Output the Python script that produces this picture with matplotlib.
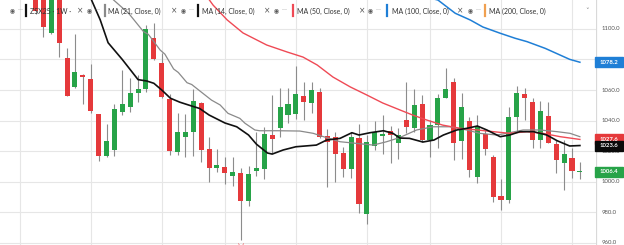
import matplotlib
matplotlib.use("Agg")
import matplotlib.pyplot as plt
from matplotlib.patches import Rectangle
from matplotlib.lines import Line2D
import numpy as np

# ! <--- candle data (weekly bars, left to right) --->
opens = [1125, 1121, 1097.2, 1121, 1080.8, 1062.2, 1069.8, 1067.2, 1044.1, 1016.9,
         1020.7, 1045.4, 1049, 1057.8, 1060.5, 1093.9, 1077.5, 1053.9, 1019.1, 1029,
         1032.3, 1051.3, 1021.1, 1009, 1009.7, 1003.8, 1005.4, 987.4, 1007.1, 1008,
         1030.3, 1035.3, 1043.6, 1044, 1056.3, 1051.3, 1058.9, 1030, 1029.4, 1018.5,
         1008.2, 1028.3, 978.7, 1023.5, 1030, 1033.4, 1025.4, 1040.3, 1034.9, 1050.8,
         1027.2, 1037, 1055, 1065.4, 1026.8, 1039.7, 1003.1, 1031, 1015.9, 990.7,
         987.9, 1042.1, 1057.4, 1052.3, 1027.2, 1043, 1024.6, 1011.9, 1015.2, 1006.0]
closes = [1112, 1101.5, 1121, 1090.6, 1056.3, 1071.8, 1068.3, 1046.4, 1016.9, 1026.6,
          1047.3, 1050.6, 1057.8, 1060.4, 1099.8, 1080.3, 1055.6, 1020, 1032.7, 1032.3,
          1052.8, 1020.7, 1009, 1011, 1005.4, 1006.4, 987.4, 1004.9, 1008.7, 1031.1,
          1028, 1049, 1050.8, 1057.4, 1051.9, 1059.8, 1029.4, 1025.7, 1018.3, 1008.2,
          1029, 985, 1025.7, 1032.3, 1031, 1030.7, 1030.5, 1035.6, 1050.2, 1027.2,
          1037, 1055, 1060.7, 1025, 1049, 1007.5, 1036, 1021.6, 990, 987.9,
          1042.5, 1058.2, 1054.6, 1027.2, 1046.2, 1025.4, 1014.1, 1018, 1007.1, 1006.4]
highs = [1128, 1124, 1124, 1123, 1087.3, 1097, 1070.5, 1076.9, 1044.5, 1037.7,
         1050.6, 1073.1, 1067.7, 1070, 1102.6, 1103.7, 1084.1, 1057.2, 1045.1, 1044,
         1060.5, 1052, 1029, 1021.1, 1016.3, 1016.3, 1008.7, 1010.4, 1032.3, 1036,
         1056.9, 1061.5, 1061.5, 1075.7, 1065.4, 1065.4, 1061.1, 1034.4, 1032.7, 1022.8,
         1032.7, 1038, 1030.5, 1039.5, 1043.6, 1036.7, 1034.9, 1065.4, 1060.5, 1056.7,
         1040.3, 1057.3, 1074.2, 1067.7, 1058.2, 1042.5, 1043.3, 1033.8, 1017.4, 1001.6,
         1049, 1062.6, 1061.1, 1054.6, 1052.8, 1052.3, 1027.2, 1027.2, 1021.8, 1013]
lows = [1110, 1095, 1096.5, 1081.8, 1056, 1061, 1050.8, 1044.7, 1013.4, 1016.4,
        1017, 1043.6, 1045.8, 1052.3, 1058.9, 1079.7, 1054.6, 1017.4, 1017.4, 1016.3,
        1016.9, 1013, 999.9, 1006, 998.2, 997, 961.6, 983.9, 1003.8, 1001.4,
        1018.8, 1029, 1038.2, 1041, 1040.5, 1045, 1028.3, 996.6, 999.9, 1003.3,
        1002.5, 979.1, 972.1, 1020.4, 1018, 1011.9, 1014.6, 1031.6, 1032.7, 1026.1,
        1015.9, 1021.8, 1054.6, 1014.1, 1014.6, 1003.1, 998.8, 1017.4, 986.8, 981.3,
        985.7, 1032.7, 1040.3, 1021.8, 1021.8, 1025, 1005.4, 994.4, 1002.1, 1001.4]

# ! <--- moving averages (bar index, value) --->
ma14_i = [7.1, 8.2, 9.2, 11.0, 13.0, 14.1, 15.0, 16.0, 17.1, 18.3, 19.8, 20.8, 22.0, 24.0,
          25.5, 27.0, 28.0, 29.4, 30.0, 31.4, 33.0, 35.6, 36.9, 38.6, 40.1, 41.0, 42.4,
          44.1, 45.3, 46.2, 47.4, 49.1, 50.5, 51.7, 53.4, 54.7, 56.0, 57.2, 58.9, 60.1,
          61.4, 63.1, 64.8, 66.1, 67.7, 69.0]
ma14_v = [1119, 1106, 1091, 1080, 1066.8, 1065.9, 1064.4, 1060, 1054.6, 1052, 1049.5,
          1047.9, 1043.6, 1038.4, 1035.9, 1030.5, 1024.5, 1018.7, 1018, 1020.7, 1022.8,
          1023.9, 1027.2, 1028.3, 1032, 1030.5, 1032, 1033.3, 1031.6, 1028.5, 1028.3,
          1025.9, 1027.2, 1030.5, 1033.8, 1034.9, 1036.4, 1033.8, 1029.4, 1030.5, 1032.7,
          1032.7, 1030.5, 1026.8, 1023.3, 1023.6]
ma21_i = [9.9, 11.8, 13.7, 14.3, 15.8, 16.4, 17.5, 18.1, 19.2, 19.8, 20.85, 22.3, 23.4,
          24.4, 25.9, 26.55, 27.8, 28.4, 30.8, 33.5, 35.2, 36.5, 38.6, 40.7, 42.8, 44.5,
          46.2, 48.3, 50.4, 52.5, 54.65, 56.3, 58.45, 59.7, 61.8, 63.9, 66.1, 67.75, 69.0]
ma21_v = [1119, 1110.3, 1098.2, 1096.5, 1086.2, 1083.5, 1073.8, 1071.5, 1064.8, 1063.6,
          1059.3, 1053.4, 1050.2, 1044.7, 1041.4, 1038.2, 1033.8, 1033.3, 1033.3, 1033.1,
          1031.6, 1029.4, 1026.1, 1025, 1023.9, 1026.1, 1028.9, 1033.8, 1035.9, 1035.9,
          1033.8, 1031.6, 1030.5, 1031.6, 1033.8, 1033.8, 1032.7, 1031.6, 1029.4]
ma50_i = [21.9, 22.5, 24.3, 26.3, 29.3, 31.9, 33.9, 35.7, 37.7, 39.9, 42.0, 44.0, 46.2,
          47.8, 49.6, 51.6, 53.8, 56.0, 58.0, 60.1, 62.3, 64.3, 66.5, 69.0]
ma50_v = [1120, 1115.7, 1105.9, 1097.4, 1089.5, 1084.9, 1081.6, 1076.4, 1068.5, 1062,
          1056.7, 1051.5, 1046.9, 1043.6, 1040.3, 1037, 1034.9, 1033.8, 1032.7, 1031.6,
          1032.7, 1031.6, 1029.4, 1027.6]
ma100_i = [49.4, 51.0, 53.2, 55.1, 56.7, 58.9, 60.8, 62.3, 64.6, 67.7, 69.0]
ma100_v = [1121, 1119, 1110.3, 1105.9, 1101.3, 1097.2, 1093.9, 1091.7, 1087.3, 1080.1, 1078.2]

price_ticks = [960, 980, 1000, 1020, 1040, 1060, 1080, 1100]
week_grid = [-2, 7, 16, 24, 33, 42, 50, 59, 68]

legend_names = ["ZSX25 \u00b7 1W \u00b7", "MA (21, Close, 0)", "MA (14, Close, 0)",
                "MA (50, Close, 0)", "MA (100, Close, 0)", "MA (200, Close, 0)"]
legend_colors = ["#111111", "#8a8a8a", "#111111", "#ef4a55", "#1f7fd6", "#f0a050"]
badge_vals = [1078.2, 1027.6, 1023.6, 1006.4]
badge_colors = ["#1f7fd6", "#e5393b", "#0a0a0a", "#27a348"]

GREEN, RED = "#27a348", "#e5393b"
W, H = 624, 245

fig = plt.figure(figsize=(W / 100, H / 100), dpi=100)
ax = fig.add_axes([0, 0, 596 / W, 1])
pax = fig.add_axes([596 / W, 0, 28 / W, 1])

ymin, ymax = 958.4, 1119.0
ax.set_xlim(-4.5, 71.04)
ax.set_ylim(ymin, ymax)
ax.set_xticks([])
ax.set_yticks([])
for s in ax.spines.values():
    s.set_visible(False)

for v in price_ticks:
    ax.axhline(v, color="#e6e6e6", lw=0.8, zorder=0)
for g in week_grid:
    ax.axvline(g, color="#e6e6e6", lw=0.8, zorder=0)

# ! <--- candles --->
o = np.array(opens)
c = np.array(closes)
x = np.arange(len(o))
cols = [GREEN if cc >= oo else RED for oo, cc in zip(o, c)]
ax.vlines(x, lows, highs, color="#8c8c8c", lw=0.8, zorder=2)
ax.bar(x, np.maximum(np.abs(c - o), 0.9), bottom=np.minimum(o, c), width=0.64,
       color=cols, linewidth=0, zorder=3)
ax.text(x[np.argmin(lows)], 959.8, "\u25e1", color=RED, fontsize=5, ha="center",
        va="center", family="DejaVu Sans")

# ! <--- moving averages --->
ax.plot(ma21_i, ma21_v, color="#8a8a8a", lw=0.9, zorder=4)
ax.plot(ma50_i, ma50_v, color="#ef4a55", lw=1.0, zorder=4)
ax.plot(ma100_i, ma100_v, color="#1f7fd6", lw=1.1, zorder=4)
ax.plot(ma14_i, ma14_v, color="#111111", lw=1.2, zorder=5)

# ! <--- price scale on the right --->
pax.set_xlim(0, 28)
pax.set_ylim(ymin, ymax)
pax.axis("off")
pax.axvline(0, color="#d9d9d9", lw=0.9)
for v in price_ticks:
    # labels sitting right under a badge are hidden on the original
    if min(abs(v - b) for b in badge_vals) < 3:
        continue
    pax.text(5.7, v, f"{v:.1f}", fontsize=4.3, family="Lato", color="#555555",
             ha="left", va="center")
for val, col in zip(badge_vals, badge_colors):
    pax.add_patch(Rectangle((-1, val - 3.3), 28.3, 6.6, color=col, zorder=5, clip_on=False))
    pax.text(13.3, val, f"{val:.1f}", fontsize=4.3, family="Lato", weight="bold",
             color="white", ha="center", va="center", zorder=6)

# ! <--- legend row along the top --->
def fx(px):
    return px / W

fy = 1 - 11 / H
eye_x = [12, 89, 183, 276, 370, 470]
bar_x = [26, 105, 198, 293, 387, 485]
text_x = [30.5, 108, 202, 297, 391.5, 489]
close_x = [80, 174, 267, 361.7, 460]
for i, name in enumerate(legend_names):
    fig.text(fx(eye_x[i]), fy, "\u25c9", fontsize=4.2, color="#555555",
             family="DejaVu Sans", ha="center", va="center")
    fig.text(fx(eye_x[i] + 8), fy + 0.004, "\u00b7\u00b7\u00b7", fontsize=4.5, color="#777777",
             family="DejaVu Sans", ha="center", va="center")
    fig.add_artist(Line2D([fx(bar_x[i])] * 2, [1 - 5.5 / H, 1 - 16.5 / H],
                          color=legend_colors[i], lw=1.6))
    fig.text(fx(text_x[i]), fy, name, fontsize=5, color="#333333", family="Lato",
             ha="left", va="center")
    if i < len(close_x):
        fig.text(fx(close_x[i]), fy, "\u00d7", fontsize=5.5, color="#555555",
                 family="DejaVu Sans", ha="center", va="center")
fig.text(fx(587), fy, "\u02c5", fontsize=5, color="#777777", family="DejaVu Sans",
         ha="center", va="center")

fig.savefig("out.png", dpi=100)
